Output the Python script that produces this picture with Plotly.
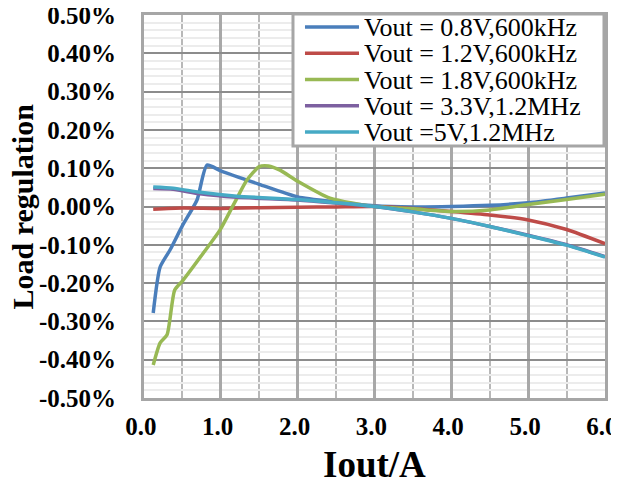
import plotly.graph_objects as go

# ---- data (Load regulation in %) ----
x_08 = [0.12, 0.21, 0.34, 0.50, 0.69, 0.82, 1.00, 1.50, 2.00, 2.50, 3.00, 3.50, 4.00, 4.50, 5.00, 5.50, 6.00]
y_08 = [-0.278, -0.158, -0.113, -0.050, 0.017, 0.108, 0.093, 0.058, 0.025, 0.012, 0.002, -0.001, 0.000, 0.003, 0.010, 0.022, 0.035]

x_12 = [0.12, 0.50, 1.00, 1.50, 2.00, 2.50, 3.00, 3.50, 4.00, 4.50, 5.00, 5.50, 6.00]
y_12 = [-0.007, -0.004, -0.005, -0.003, -0.002, -0.001, 0.000, -0.005, -0.013, -0.022, -0.035, -0.060, -0.097]

x_18 = [0.12, 0.21, 0.30, 0.40, 0.51, 0.77, 0.99, 1.21, 1.34, 1.50, 1.62, 1.77, 2.00, 2.42, 3.00, 3.50, 4.00, 4.50, 5.00, 5.50, 6.00]
y_18 = [-0.414, -0.356, -0.335, -0.218, -0.192, -0.122, -0.061, 0.022, 0.069, 0.104, 0.106, 0.095, 0.066, 0.022, 0.000, -0.006, -0.013, -0.009, 0.005, 0.018, 0.032]

x_33 = [0.12, 0.38, 0.73, 1.21, 2.00, 2.50, 3.00, 3.50, 4.00, 4.50, 5.00, 5.50, 6.00]
y_33 = [0.047, 0.045, 0.033, 0.024, 0.017, 0.009, 0.000, -0.014, -0.031, -0.052, -0.075, -0.100, -0.131]

x_50 = [0.12, 0.38, 0.73, 1.21, 2.00, 2.50, 3.00, 3.50, 4.00, 4.50, 5.00, 5.50, 6.00]
y_50 = [0.051, 0.048, 0.037, 0.027, 0.018, 0.010, 0.000, -0.014, -0.031, -0.052, -0.076, -0.101, -0.132]

names = ["Vout = 0.8V,600kHz", "Vout = 1.2V,600kHz", "Vout = 1.8V,600kHz",
         "Vout = 3.3V,1.2MHz", "Vout =5V,1.2MHz"]
colors = ["#4A7EBB", "#BE4B48", "#98B954", "#7D60A0", "#46AAC5"]

x_ticks = [0, 1, 2, 3, 4, 5, 6]
x_tick_labels = ["0.0\u00a0", "1.0\u00a0", "2.0\u00a0", "3.0\u00a0", "4.0\u00a0", "5.0\u00a0", "6.0\u00a0"]
y_ticks = [-0.5, -0.4, -0.3, -0.2, -0.1, 0.0, 0.1, 0.2, 0.3, 0.4, 0.5]
y_tick_labels = ["-0.50%", "-0.40%", "-0.30%", "-0.20%", "-0.10%", "0.00%",
                 "0.10%", "0.20%", "0.30%", "0.40%", "0.50%"]
x_title = "Iout/A"
y_title = "Load regulation"

series = [(x_08, y_08), (x_12, y_12), (x_18, y_18), (x_33, y_33), (x_50, y_50)]

FONT = "Liberation Serif, Times New Roman, serif"

fig = go.Figure()
for (xs, ys), name, col in zip(series, names, colors):
    fig.add_trace(go.Scatter(
        x=xs, y=ys, name=name, mode="lines", showlegend=False,
        line=dict(color=col, width=3.5, shape="spline", smoothing=0.6),
    ))

# ---- legend box (Excel-style, tight rows) drawn in paper coordinates ----
LEG_X0, LEG_X1, LEG_Y0, LEG_Y1 = 0.3232, 0.9978, 0.658, 1.0026
SW_X0, SW_X1, TXT_X = 0.3492, 0.4664, 0.4740
ROW_Y0, ROW_STEP = 0.9687, 0.0686

shapes = [dict(type="rect", xref="paper", yref="paper",
               x0=LEG_X0, x1=LEG_X1, y0=LEG_Y0, y1=LEG_Y1,
               fillcolor="white", line=dict(color="#A6A6A6", width=3), layer="above")]
annotations = []
for i, (name, col) in enumerate(zip(names, colors)):
    yy = ROW_Y0 - i * ROW_STEP
    shapes.append(dict(type="line", xref="paper", yref="paper",
                       x0=SW_X0, x1=SW_X1, y0=yy, y1=yy,
                       line=dict(color=col, width=3.5), layer="above"))
    annotations.append(dict(xref="paper", yref="paper", x=TXT_X, y=yy,
                            xanchor="left", yanchor="middle", showarrow=False,
                            height=24, valign="middle", borderpad=0,
                            text=name, font=dict(family=FONT, size=26, color="black")))

# axis titles
annotations.append(dict(xref="paper", yref="paper", x=0.5, y=0, xanchor="center",
                        yanchor="middle", yshift=-66, showarrow=False, text=x_title,
                        font=dict(family=FONT, size=37, color="black", weight="bold")))
annotations.append(dict(xref="paper", yref="paper", x=0, y=0.5, xanchor="center",
                        yanchor="middle", xshift=-122, textangle=-90, showarrow=False,
                        text=y_title,
                        font=dict(family=FONT, size=30, color="black", weight="bold")))

fig.update_layout(
    width=611, height=472,
    margin=dict(l=136, r=14, t=7, b=82, autoexpand=False),
    paper_bgcolor="white", plot_bgcolor="white",
    font=dict(family=FONT, color="black"),
    showlegend=False,
    shapes=shapes, annotations=annotations,
)

fig.update_xaxes(
    range=[0, 6], tickmode="array", tickvals=x_ticks, ticktext=x_tick_labels,
    tickfont=dict(family=FONT, size=25, color="black", weight="bold"),
    ticklen=0, ticklabelstandoff=4, ticklabeloverflow="allow", automargin=False,
    showgrid=True, gridcolor="#A8A8A8", gridwidth=3,
    minor=dict(dtick=0.5, tick0=0, showgrid=True, gridcolor="#B8B8B8", gridwidth=2),
    showline=True, linecolor="#A6A6A6", linewidth=3, mirror=True,
    zeroline=False, ticks="",
)

fig.update_yaxes(
    range=[-0.5, 0.5], tickmode="array", tickvals=y_ticks, ticktext=y_tick_labels,
    tickfont=dict(family=FONT, size=25, color="black", weight="bold"),
    ticklen=0, ticklabelstandoff=20, ticklabeloverflow="allow", automargin=False,
    showgrid=True, gridcolor="#8C8C8C", gridwidth=2,
    minor=dict(dtick=0.02, tick0=0, showgrid=True, gridcolor="#ECECEC", gridwidth=2),
    showline=True, linecolor="#A6A6A6", linewidth=3, mirror=True,
    zeroline=False, ticks="",
)

fig.write_html("out.html")
